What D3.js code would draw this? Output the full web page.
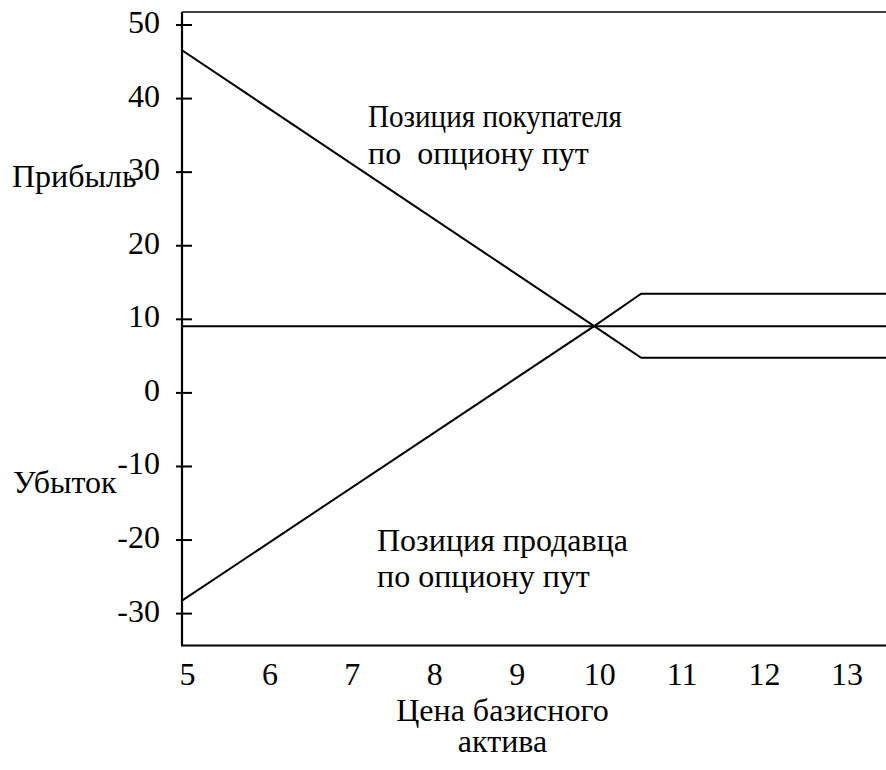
<!DOCTYPE html>
<html>
<head>
<meta charset="utf-8">
<script src="https://cdn.jsdelivr.net/npm/d3@7"></script>
</head>
<body style="margin:0">
<svg id="chart" width="886" height="770"></svg>
<script>
// ---- data ----
const xTicks = [5, 6, 7, 8, 9, 10, 11, 12, 13];
const yTicks = [50, 40, 30, 20, 10, 0, -10, -20, -30];
const buyerX = [5, 10, 10.57, 13.54];
const buyerY = [46.5, 9, 4.7, 4.7];
const sellerX = [5, 10, 10.57, 13.54];
const sellerY = [-28.3, 9, 13.4, 13.4];
const levelX = [5, 13.54];
const levelY = [9, 9];
const yAxisWords = ["Прибыль", "Убыток"];
const buyerLabel = ["Позиция покупателя", "по  опциону пут"];
const sellerLabel = ["Позиция продавца", "по опциону пут"];
const xTitle = ["Цена базисного", "актива"];

// ---- layout ----
const svg = d3.select("#chart");
const plotL = 182, plotR = 886, plotT = 12, plotB = 645.5;
const fs = 32;
const FONT = '"Liberation Serif"';

const x = d3.scaleLinear().domain([5, 13.54]).range([plotL, plotR]);
const y = d3.scaleLinear().domain([-34.4, 51.7]).range([plotB, plotT]);

const toPts = (xs, ys) => xs.map((v, i) => [v, ys[i]]);
const line = d3.line().x(d => x(d[0])).y(d => y(d[1]));

// top frame line
svg.append("line")
  .attr("x1", plotL).attr("x2", plotR)
  .attr("y1", plotT).attr("y2", plotT)
  .attr("stroke", "#000").attr("stroke-width", 1.6);

// y axis
const yAxis = svg.append("g")
  .attr("transform", `translate(${plotL},0)`)
  .call(d3.axisLeft(y).tickValues(yTicks).tickSize(6).tickPadding(16)
        .tickFormat(d => String(d)));
yAxis.attr("font-family", null).attr("font-size", null);
yAxis.select(".domain").remove();
yAxis.selectAll(".tick line").attr("x1", 10).attr("x2", -6)
  .attr("stroke", "#000").attr("stroke-width", 2);
yAxis.selectAll(".tick text")
  .style("font-family", FONT).attr("font-size", fs)
  .attr("fill", "#000").attr("dy", "0.25em");
svg.append("line")
  .attr("x1", plotL).attr("x2", plotL)
  .attr("y1", plotT).attr("y2", plotB)
  .attr("stroke", "#000").attr("stroke-width", 2.2);

// x axis
const xAxis = svg.append("g")
  .attr("transform", `translate(0,${plotB})`)
  .call(d3.axisBottom(x).tickValues(xTicks).tickSize(0).tickPadding(0)
        .tickFormat(d => String(d)));
xAxis.attr("font-family", null).attr("font-size", null);
xAxis.select(".domain").remove();
xAxis.selectAll(".tick text")
  .style("font-family", FONT).attr("font-size", fs)
  .attr("fill", "#000")
  .attr("text-anchor", "middle").attr("dx", 5).attr("dy", 0).attr("y", 39);
svg.append("line")
  .attr("x1", plotL - 1).attr("x2", plotR)
  .attr("y1", plotB).attr("y2", plotB)
  .attr("stroke", "#000").attr("stroke-width", 2.2);

// data lines
[[levelX, levelY], [buyerX, buyerY], [sellerX, sellerY]].forEach(([xs, ys]) => {
  svg.append("path")
    .attr("d", line(toPts(xs, ys)))
    .attr("fill", "none").attr("stroke", "#000")
    .attr("stroke-width", 2).attr("stroke-linejoin", "miter");
});

// text labels
function addText(str, tx, ty, anchor, len) {
  const t = svg.append("text")
    .attr("x", tx).attr("y", ty)
    .style("font-family", FONT).attr("font-size", fs)
    .attr("fill", "#000")
    .attr("text-anchor", anchor || "start")
    .style("white-space", "pre")
    .text(str);
  if (len) t.attr("textLength", len).attr("lengthAdjust", "spacingAndGlyphs");
}
addText(yAxisWords[0], 12, 187);
addText(yAxisWords[1], 13, 493);
addText(buyerLabel[0], 368, 127, "start", 254);
addText(buyerLabel[1], 368, 164);
addText(sellerLabel[0], 377, 551);
addText(sellerLabel[1], 377, 587);
addText(xTitle[0], 502.5, 721, "middle");
addText(xTitle[1], 502.5, 752, "middle");
</script>
</body>
</html>
